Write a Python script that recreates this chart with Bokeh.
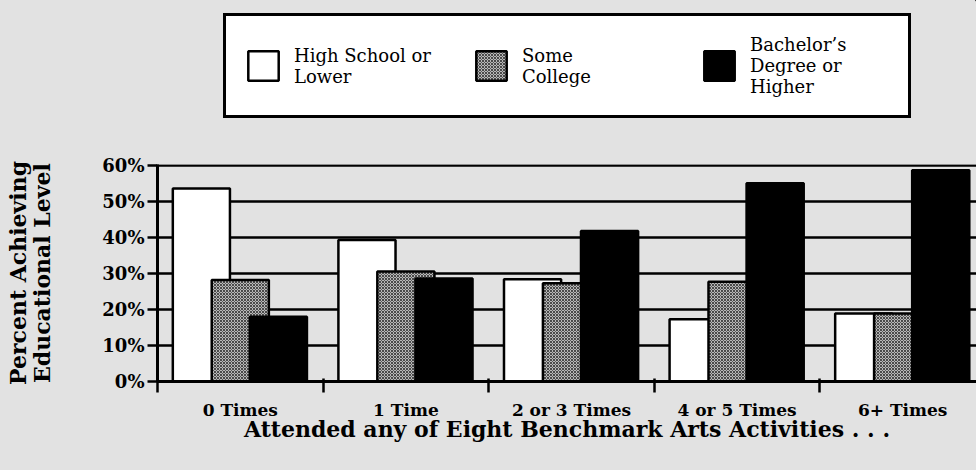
from bokeh.plotting import figure
from bokeh.layouts import column
from bokeh.models import (Range1d, FixedTicker, LinearAxis, Legend, LegendItem,
                          ColumnDataSource)
from bokeh.transform import dodge
from bokeh.embed import file_html
from bokeh.resources import INLINE

categories = ["0 Times", "1 Time", "2 or 3 Times", "4 or 5 Times", "6+ Times"]
high_school = [53.6, 39.3, 28.4, 17.3, 18.9]
some_college = [28.2, 30.6, 27.3, 27.7, 18.9]
bachelors = [18.0, 28.6, 41.8, 55.1, 58.7]
series_labels = ["High School or\nLower", "Some\nCollege", "Bachelor\u2019s\nDegree or\nHigher"]
y_ticks = [0, 10, 20, 30, 40, 50, 60]
y_tick_labels = ["0%", "10%", "20%", "30%", "40%", "50%", "60%"]
x_title = "Attended any of Eight Benchmark Arts Activities . . ."
y_title = "Percent Achieving\nEducational Level"

FONT = "DejaVu Serif"
BG = "#e2e2e2"

white_style = dict(fill_color="white", line_color="black", line_width=2.5)
gray_style = dict(fill_color="#b8b8b8", line_color="black", line_width=2.5,
                  hatch_pattern="diagonal_cross", hatch_scale=3, hatch_color="black",
                  hatch_weight=1, hatch_alpha=0.6)
black_style = dict(fill_color="black", line_color="black", line_width=2.5)

centers = [i + 0.5 for i in range(len(categories))]
boundaries = list(range(len(categories) + 1))
source = ColumnDataSource(dict(center=centers, hs=high_school, sc=some_college, ba=bachelors))

# ---------- legend strip (its frame is aligned with the chart frame below) ----------
top = figure(width=976, height=130, output_backend="svg", toolbar_location=None,
             x_axis_type=None, y_axis_type=None, x_range=Range1d(0, 1), y_range=Range1d(0, 1),
             min_border_left=157, min_border_right=0, min_border_top=0, min_border_bottom=0)
top.background_fill_color = BG
top.border_fill_color = BG
top.outline_line_color = None
# swatch-only renderers, placed far outside the canvas so only the legend shows them
swatch = ColumnDataSource(dict(x=[100], b=[100], t=[101]))
d1 = top.vbar(x="x", top="t", bottom="b", width=0.1, source=swatch, **white_style)
d2 = top.vbar(x="x", top="t", bottom="b", width=0.1, source=swatch, **gray_style)
d3 = top.vbar(x="x", top="t", bottom="b", width=0.1, source=swatch, **black_style)
legend = Legend(items=[LegendItem(label=series_labels[0], renderers=[d1]),
                       LegendItem(label=series_labels[1], renderers=[d2]),
                       LegendItem(label=series_labels[2], renderers=[d3])],
                orientation="horizontal", location=(66, 12),
                border_line_color="black", border_line_width=3, border_line_alpha=1,
                background_fill_color="white", background_fill_alpha=1,
                label_text_font=FONT, label_text_font_size="18px",
                label_text_color="black", label_text_line_height=0.95,
                glyph_width=38, glyph_height=37, label_standoff=12,
                spacing=38, padding=18, margin=0, label_width=140)
top.add_layout(legend, "center")

# ---------- main chart ----------
p = figure(width=976, height=340, output_backend="svg", toolbar_location=None,
           x_range=Range1d(0, 4.946), y_range=Range1d(0, 60.3),
           x_axis_type=None,
           min_border_left=157, min_border_right=0, min_border_top=34, min_border_bottom=89)
p.background_fill_color = BG
p.border_fill_color = BG
p.outline_line_color = None

bw = 0.345
p.vbar(x=dodge("center", -0.235, range=p.x_range), top="hs", width=bw, bottom=0,
       source=source, **white_style)
p.vbar(x=dodge("center", 0.0, range=p.x_range), top="sc", width=bw, bottom=0,
       source=source, **gray_style)
p.vbar(x=dodge("center", 0.23, range=p.x_range), top="ba", width=bw, bottom=0,
       source=source, **black_style)

ya = p.yaxis[0]
ya.ticker = FixedTicker(ticks=y_ticks)
ya.major_label_overrides = dict(zip(y_ticks, y_tick_labels))
ya.major_label_text_font = FONT
ya.major_label_text_font_style = "bold"
ya.major_label_text_font_size = "18px"
ya.major_label_text_color = "black"
ya.major_tick_out = 10
ya.major_tick_in = 0
ya.major_tick_line_width = 2.5
ya.major_tick_line_color = "black"
ya.minor_tick_line_color = None
ya.axis_line_width = 3
ya.axis_line_color = "black"
ya.major_label_standoff = 3
ya.axis_label = y_title
ya.axis_label_text_font = FONT
ya.axis_label_text_font_style = "bold"
ya.axis_label_text_font_size = "22px"
ya.axis_label_text_line_height = 0.95
ya.axis_label_text_color = "black"
ya.axis_label_standoff = 44

p.ygrid.ticker = FixedTicker(ticks=y_ticks[1:])
p.ygrid.grid_line_color = "black"
p.ygrid.grid_line_width = 2.5

xa = LinearAxis(ticker=FixedTicker(ticks=centers, minor_ticks=boundaries),
                major_label_overrides=dict(zip(centers, categories)))
xa.major_tick_out = 0
xa.major_tick_in = 0
xa.major_tick_line_color = None
xa.minor_tick_out = 11
xa.minor_tick_in = 3
xa.minor_tick_line_width = 2.5
xa.minor_tick_line_color = "black"
xa.axis_line_width = 3
xa.axis_line_color = "black"
xa.major_label_text_font = FONT
xa.major_label_text_font_style = "bold"
xa.major_label_text_font_size = "17px"
xa.major_label_text_color = "black"
xa.major_label_standoff = 7
xa.axis_label = x_title
xa.axis_label_text_font = FONT
xa.axis_label_text_font_style = "bold"
xa.axis_label_text_font_size = "22px"
xa.axis_label_text_color = "black"
xa.axis_label_standoff = -7
p.add_layout(xa, "below")

layout = column(top, p, spacing=0)
html = file_html(layout, INLINE)
html = html.replace("<body>", "<body style=\"background:%s\">" % BG, 1)
html = html.replace("<html", "<html style=\"background:%s\"" % BG, 1)
open("out.html", "w").write(html)
